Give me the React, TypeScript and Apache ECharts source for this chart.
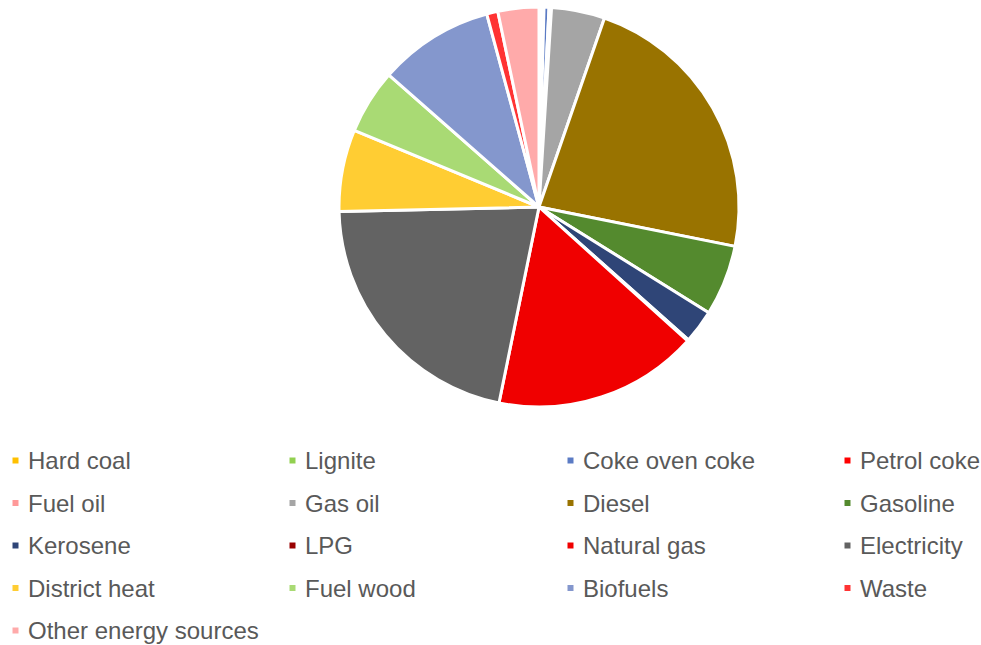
import React, { useEffect, useRef } from "react";
import * as echarts from "echarts";

const categories = [
  "Hard coal", "Lignite", "Coke oven coke", "Petrol coke",
  "Fuel oil", "Gas oil", "Diesel", "Gasoline",
  "Kerosene", "LPG", "Natural gas", "Electricity",
  "District heat", "Fuel wood", "Biofuels", "Waste",
  "Other energy sources",
];
const shares = [
  0.2, 0.2, 0.4, 0.1,
  0.1, 4.3, 22.8, 5.7,
  2.7, 0.1, 16.5, 21.4,
  6.6, 5.2, 9.3, 0.9,
  3.3,
];
const colors = [
  "#FFC000", "#92D050", "#5B7BC4", "#FF0000",
  "#FF9999", "#A5A5A5", "#997300", "#548A2E",
  "#2F4577", "#990000", "#F00000", "#636363",
  "#FFCD33", "#A9DA74", "#8497CD", "#FF3333",
  "#FFAAAA",
];

export default function App() {
  const ref = useRef<HTMLDivElement>(null);
  useEffect(() => {
    if (!ref.current) return;
    const chart = echarts.init(ref.current, null, { renderer: "svg" });
    const colLefts = [10.5, 287.5, 565.5, 842.5];
    const legends = colLefts.map((left, c) => ({
      orient: "vertical",
      left,
      top: 448.5,
      height: 200,
      padding: 0,
      itemWidth: 15,
      itemHeight: 8,
      itemGap: 18.5,
      icon: "path://M0,0h10v10h-10z",
      selectedMode: false,
      textStyle: {
        fontFamily: "Liberation Sans, Arial, sans-serif",
        fontSize: 24,
        lineHeight: 24,
        color: "#595959",
      },
      data: categories.filter((_, i) => i % 4 === c),
    }));
    chart.setOption({
      animation: false,
      color: colors,
      legend: legends,
      series: [
        {
          type: "pie",
          center: [539, 207],
          radius: 200,
          startAngle: 90,
          clockwise: true,
          label: { show: false },
          labelLine: { show: false },
          emphasis: { disabled: true },
          itemStyle: { borderColor: "#FFFFFF", borderWidth: 3 },
          data: categories.map((name, i) => ({ name, value: shares[i] })),
        },
      ],
    });
    return () => chart.dispose();
  }, []);
  return <div ref={ref} style={{ width: 981, height: 645, position: "absolute", left: 0, top: 0 }} />;
}
